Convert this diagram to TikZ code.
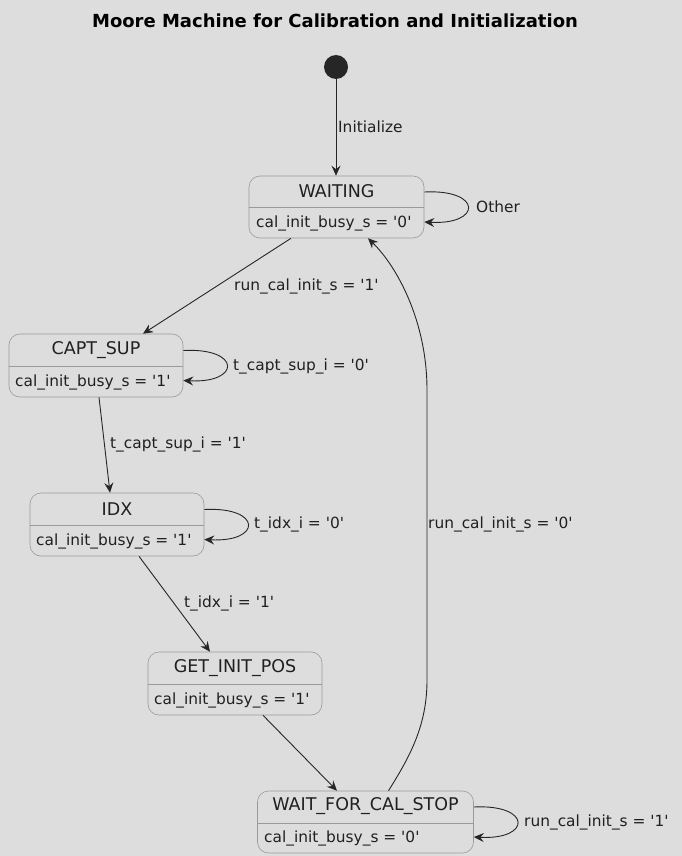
\documentclass[tikz,border=0pt]{standalone}
\usepackage{fontspec}
\setmainfont{DejaVu Sans}
\usetikzlibrary{arrows.meta}
\definecolor{bg}{HTML}{DDDDDD}
\definecolor{edge}{HTML}{262626}
\definecolor{frame}{HTML}{9A9A9A}
\definecolor{txt}{HTML}{202020}
% straight apostrophe
\newcommand{\sq}{\textquotesingle}
\tikzset{
  box/.style={draw=frame, fill=bg, rounded corners=11pt, line width=0.6pt, inner sep=0pt},
  divider/.style={draw=frame, line width=0.6pt},
  sname/.style={font=\fontsize{17.5}{19}\selectfont, text=txt, inner sep=0pt},
  attr/.style={font=\fontsize{15.4}{17}\selectfont, text=txt, inner sep=0pt, anchor=west},
  elabel/.style={font=\fontsize{15.4}{17}\selectfont, text=txt, inner sep=0pt, anchor=west},
  trans/.style={draw=edge, line width=0.9pt, -{Stealth[length=10pt,width=9pt,inset=3.5pt]}},
}
\begin{document}
\begin{tikzpicture}[x=1pt, y=-1pt]
\useasboundingbox[fill=bg] (0,0) rectangle (682,856);

% title
\node[font=\bfseries\fontsize{18}{20}\selectfont, text=black] (title) at (335,21) {Moore Machine for Calibration and Initialization};

% initial pseudo-state
\node[circle, fill=edge, minimum size=24pt, inner sep=0pt] (init) at (336,67) {};

% states: box, name, divider, output value
\node[box, minimum width=175pt, minimum height=62pt] (waiting) at (336.5,207) {};
\node[sname] (waitingN) at (336.5,191) {WAITING};
\draw[divider] (waiting.west |- 0,207.5) -- (waiting.east |- 0,207.5);
\node[attr] (waitingA) at (256,223.5) {cal\_init\_busy\_s = \sq0\sq};

\node[box, minimum width=174pt, minimum height=63pt] (capt) at (96,365.5) {};
\node[sname] (captN) at (96,350) {CAPT\_SUP};
\draw[divider] (capt.west |- 0,366) -- (capt.east |- 0,366);
\node[attr] (captA) at (15,382.5) {cal\_init\_busy\_s = \sq1\sq};

\node[box, minimum width=174pt, minimum height=63pt] (idx) at (117,524.5) {};
\node[sname] (idxN) at (117,509) {IDX};
\draw[divider] (idx.west |- 0,525) -- (idx.east |- 0,525);
\node[attr] (idxA) at (36,541.5) {cal\_init\_busy\_s = \sq1\sq};

\node[box, minimum width=174pt, minimum height=63pt] (getpos) at (235,683.5) {};
\node[sname] (getposN) at (235,668) {GET\_INIT\_POS};
\draw[divider] (getpos.west |- 0,684) -- (getpos.east |- 0,684);
\node[attr] (getposA) at (154,700.5) {cal\_init\_busy\_s = \sq1\sq};

\node[box, minimum width=216pt, minimum height=62pt] (wfcs) at (365.5,822) {};
\node[sname] (wfcsN) at (365.5,806) {WAIT\_FOR\_CAL\_STOP};
\draw[divider] (wfcs.west |- 0,823) -- (wfcs.east |- 0,823);
\node[attr] (wfcsA) at (264,838.5) {cal\_init\_busy\_s = \sq0\sq};

% transitions
\draw[trans] (init) -- (waiting.north -| init);
\node[elabel] (lInit) at (338,127) {Initialize};

\draw[trans] ([yshift=15pt]waiting.east) .. controls +(58,-3) and +(58,3) .. ([yshift=-15pt]waiting.east);
\node[elabel] (lOther) at (476,207) {Other};

\draw[trans] ([xshift=-45.5pt]waiting.south) -- ([xshift=47pt]capt.north);
\node[elabel] (lRun1) at (234,286) {run\_cal\_init\_s = \sq1\sq};

\draw[trans] ([yshift=15pt]capt.east) .. controls +(58,-3) and +(58,3) .. ([yshift=-15pt]capt.east);
\node[elabel] (lCapt0) at (233,366) {t\_capt\_sup\_i = \sq0\sq};

\draw[trans] ([xshift=3pt]capt.south) -- ([xshift=-7pt]idx.north);
\node[elabel] (lCapt1) at (110,444) {t\_capt\_sup\_i = \sq1\sq};

\draw[trans] ([yshift=15pt]idx.east) .. controls +(58,-3) and +(58,3) .. ([yshift=-15pt]idx.east);
\node[elabel] (lIdx0) at (254,524) {t\_idx\_i = \sq0\sq};

\draw[trans] ([xshift=22pt]idx.south) -- ([xshift=-25pt]getpos.north);
\node[elabel] (lIdx1) at (184,603) {t\_idx\_i = \sq1\sq};

\draw[trans] ([xshift=28pt]getpos.south) -- ([xshift=-28.5pt]wfcs.north);

\draw[trans] ([xshift=23pt]wfcs.north) .. controls +(22,-35) and +(0,45) .. (427,680)
  -- (427,390) .. controls +(0,-70) and +(28,27) .. ([xshift=31.5pt]waiting.south);
\node[elabel] (lRun0) at (428,524) {run\_cal\_init\_s = \sq0\sq};

\draw[trans] ([yshift=15pt]wfcs.east) .. controls +(58,-3) and +(58,3) .. ([yshift=-15pt]wfcs.east);
\node[elabel] (lRun1b) at (524,822) {run\_cal\_init\_s = \sq1\sq};
\end{tikzpicture}
\end{document}
